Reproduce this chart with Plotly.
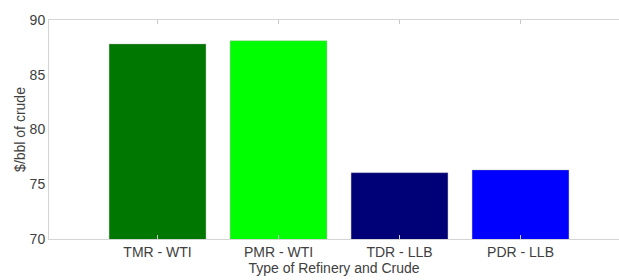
import plotly.graph_objects as go

categories = ["TMR - WTI", "PMR - WTI", "TDR - LLB", "PDR - LLB"]
values = [87.8, 88.1, 76.05, 76.3]
colors = ["#007700", "#00FF00", "#000077", "#0000FF"]
positions = [1, 2, 3, 4]
y_ticks = [70, 75, 80, 85, 90]

fig = go.Figure()
fig.add_trace(go.Bar(
    x=positions, y=values, width=0.8,
    marker=dict(color=colors, line=dict(width=0.6, color="rgba(160,160,160,0.6)")),
))

font = "Liberation Sans, Arial, Helvetica, sans-serif"
fig.update_layout(
    width=619, height=280,
    margin=dict(l=49, r=0, t=20, b=41),
    paper_bgcolor="white", plot_bgcolor="white",
    showlegend=False,
    font=dict(family=font, size=14, color="#404040"),
)
fig.update_xaxes(
    range=[0.103, 4.814],
    tickvals=positions, ticktext=categories,
    showline=True, linecolor="#d4d4d4", linewidth=1, mirror="ticks",
    ticks="inside", ticklen=4, tickcolor="#c8c8c8",
    showgrid=False, zeroline=False,
    tickfont=dict(size=14, color="#404040"),
    title=dict(text="Type of Refinery and Crude", font=dict(size=14, color="#404040"), standoff=2),
    automargin=False,
)
fig.update_yaxes(
    range=[70, 90],
    tickvals=y_ticks,
    showline=True, linecolor="#d4d4d4", linewidth=1,
    ticks="", showgrid=False, zeroline=False,
    tickfont=dict(size=14, color="#404040"),
    title=dict(text="$/bbl of crude", font=dict(size=14, color="#404040"), standoff=0),
    automargin=False,
)
fig.write_html("out.html", config={"displayModeBar": False},
               post_script="document.body.style.margin='0';document.body.style.overflow='hidden';")
